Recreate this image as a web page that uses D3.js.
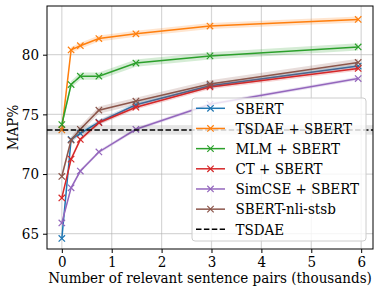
<!DOCTYPE html>
<html>
<head>
<meta charset="utf-8">
<script src="https://cdn.jsdelivr.net/npm/d3@7"></script>
<style>
  html, body { margin: 0; padding: 0; background: #fff; }
  svg { display: block; }
  svg text { font-family: "DejaVu Serif Condensed", "DejaVu Serif", serif; font-stretch: condensed; }
</style>
</head>
<body>
<div id="chart"></div>
<script>
// training sizes in thousands of pairs
const sizes = [0, 0.186, 0.371, 0.743, 1.485, 2.97, 5.94];

const sbert     = [64.6, 72.9, 73.4, 74.35, 75.8, 77.4, 79.05];
const tsdaeSb   = [73.7, 80.4, 80.75, 81.35, 81.75, 82.4, 82.95];
const mlmSb     = [74.15, 77.5, 78.2, 78.2, 79.3, 79.9, 80.65];
const ctSb      = [68.0, 71.25, 72.9, 74.3, 75.6, 77.3, 78.85];
const simcseSb  = [65.9, 68.85, 70.25, 71.85, 73.75, 75.85, 78.0];
const nliStsb   = [69.8, 72.85, 73.75, 75.35, 76.1, 77.55, 79.35];
const tsdae = 73.7;
const tsdaeStd = 0.4;

const seriesNames = ["SBERT", "TSDAE + SBERT", "MLM + SBERT", "CT + SBERT", "SimCSE + SBERT", "SBERT-nli-stsb"];
const seriesVals = [sbert, tsdaeSb, mlmSb, ctSb, simcseSb, nliStsb];
const seriesStd = [0.2, 0.25, 0.3, 0.2, 0.15, 0.3];
const colors = ["#1f77b4", "#ff7f0e", "#2ca02c", "#d62728", "#9467bd", "#8c564b"];

const xTicks = [0, 1, 2, 3, 4, 5, 6];
const yTicks = [65, 70, 75, 80];

const W = 381, H = 293;
const m = { left: 47, right: 8, top: 6, bottom: 44 };
const FS = 15;

const svg = d3.select("#chart").append("svg")
  .attr("width", W).attr("height", H);

const x = d3.scaleLinear().domain([-0.297, 6.237]).range([m.left, W - m.right]);
const y = d3.scaleLinear().domain([63.72, 84.08]).range([H - m.bottom, m.top]);

// grid
const g = svg.append("g");
g.selectAll(".gx").data(xTicks).join("line")
  .attr("x1", d => x(d)).attr("x2", d => x(d))
  .attr("y1", m.top).attr("y2", H - m.bottom)
  .attr("stroke", "#b0b0b0").attr("stroke-opacity", 0.5).attr("stroke-width", 1.2);
g.selectAll(".gy").data(yTicks).join("line")
  .attr("y1", d => y(d)).attr("y2", d => y(d))
  .attr("x1", m.left).attr("x2", W - m.right)
  .attr("stroke", "#b0b0b0").attr("stroke-opacity", 0.5).attr("stroke-width", 1.2);

const area = d3.area().x(d => x(d.x)).y0(d => y(d.v - d.s)).y1(d => y(d.v + d.s));
const line = d3.line().x(d => x(d[0])).y(d => y(d[1]));

const plot = svg.append("g");

seriesVals.forEach((vals, i) => {
  const pts = vals.map((v, j) => ({ x: sizes[j], v: v, s: seriesStd[i] }));
  plot.append("path").attr("d", area(pts))
    .attr("fill", colors[i]).attr("fill-opacity", 0.2);
  plot.append("path").attr("d", line(vals.map((v, j) => [sizes[j], v])))
    .attr("fill", "none").attr("stroke", colors[i]).attr("stroke-width", 1.5);
  const mk = plot.append("g").attr("stroke", colors[i]).attr("stroke-width", 1.2);
  vals.forEach((v, j) => drawX(mk, x(sizes[j]), y(v), 3.2));
});

// TSDAE baseline
plot.append("rect")
  .attr("x", m.left).attr("width", W - m.right - m.left)
  .attr("y", y(tsdae + tsdaeStd)).attr("height", y(tsdae - tsdaeStd) - y(tsdae + tsdaeStd))
  .attr("fill", "#000").attr("fill-opacity", 0.1);
plot.append("line")
  .attr("x1", m.left).attr("x2", W - m.right)
  .attr("y1", y(tsdae)).attr("y2", y(tsdae))
  .attr("stroke", "#000").attr("stroke-width", 1.5).attr("stroke-dasharray", "5.5,2.4");

function drawX(sel, cx, cy, r) {
  sel.append("path").attr("d", `M${cx - r},${cy - r}L${cx + r},${cy + r}M${cx - r},${cy + r}L${cx + r},${cy - r}`);
}

// axes frame
svg.append("rect")
  .attr("x", m.left).attr("y", m.top)
  .attr("width", W - m.right - m.left).attr("height", H - m.bottom - m.top)
  .attr("fill", "none").attr("stroke", "#000").attr("stroke-width", 1);

const xAxis = svg.append("g").attr("transform", `translate(0,${H - m.bottom})`)
  .call(d3.axisBottom(x).tickValues(xTicks).tickSize(4).tickPadding(3).tickFormat(d3.format("d")));
const yAxis = svg.append("g").attr("transform", `translate(${m.left},0)`)
  .call(d3.axisLeft(y).tickValues(yTicks).tickSize(4).tickPadding(4).tickFormat(d3.format("d")));
[xAxis, yAxis].forEach(a => {
  a.select(".domain").remove();
  a.attr("font-family", null);
  a.selectAll("text").attr("font-size", FS).attr("fill", "#000");
});

svg.append("text")
  .attr("x", 210).attr("y", 283)
  .attr("text-anchor", "middle").attr("font-size", FS)
  .text("Number of relevant sentence pairs (thousands)");
svg.append("text")
  .attr("transform", `translate(18,${(m.top + H - m.bottom) / 2}) rotate(-90)`)
  .attr("text-anchor", "middle").attr("font-size", FS)
  .text("MAP%");

// legend
const leg = svg.append("g");
leg.append("rect")
  .attr("x", 192).attr("y", 98).attr("width", 174).attr("height", 143).attr("rx", 3)
  .attr("fill", "#fff").attr("fill-opacity", 0.8)
  .attr("stroke", "#ccc").attr("stroke-width", 1);
const legNames = seriesNames.concat(["TSDAE"]);
const legColors = colors.concat(["#000"]);
legNames.forEach((name, i) => {
  const ly = 108.3 + i * 20.17;
  const li = leg.append("g");
  li.append("line").attr("x1", 196).attr("x2", 225).attr("y1", ly).attr("y2", ly)
    .attr("stroke", legColors[i]).attr("stroke-width", 1.5)
    .attr("stroke-dasharray", i === 6 ? "5.5,2.4" : null);
  if (i < 6) {
    const mk = li.append("g").attr("stroke", legColors[i]).attr("stroke-width", 1.2);
    drawX(mk, 210.5, ly, 3.2);
  }
  li.append("text").attr("x", 235.5).attr("y", ly + 5.3).attr("font-size", FS).text(name);
});
</script>
</body>
</html>
